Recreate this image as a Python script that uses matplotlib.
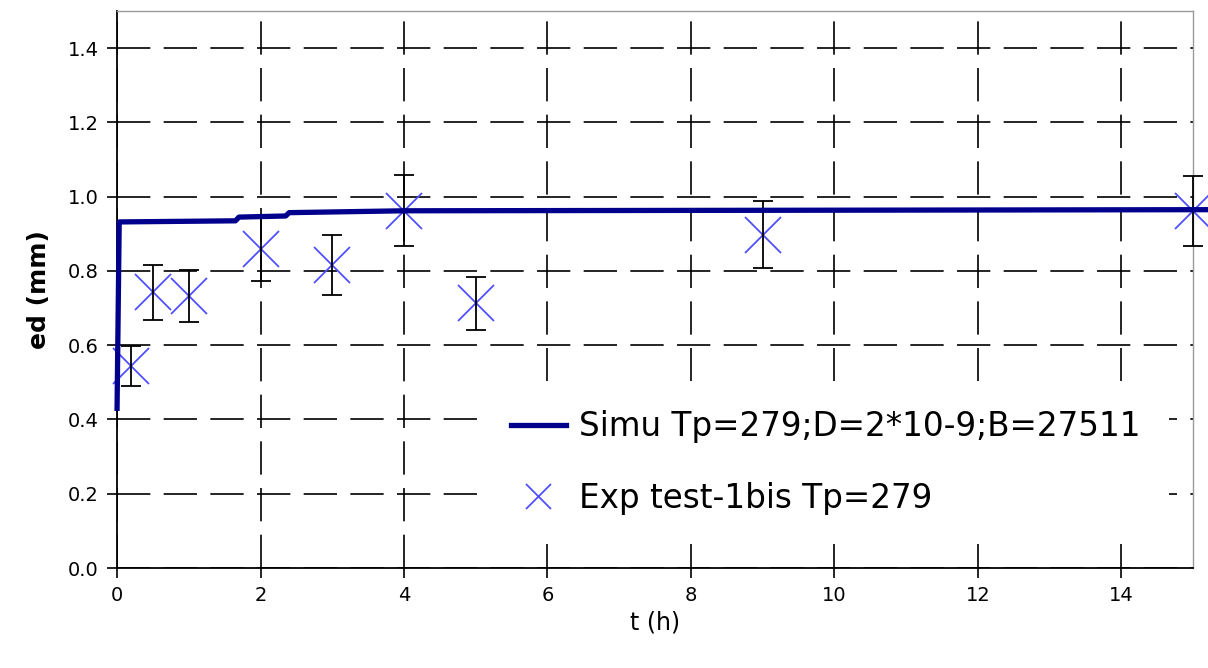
import matplotlib
matplotlib.use("Agg")
import matplotlib.pyplot as plt
from matplotlib.lines import Line2D

# simulated step curve
SIM_T = [0.0, 0.03, 1.65, 1.70, 2.35, 2.40, 4.0, 15.2]
SIM_ED = [0.43, 0.932, 0.935, 0.945, 0.948, 0.957, 0.962, 0.965]

# experimental points with error bars
EXP_T = [0.2, 0.5, 1, 2, 3, 4, 5, 9, 15]
EXP_ED = [0.543, 0.742, 0.732, 0.858, 0.816, 0.962, 0.713, 0.898, 0.962]
EXP_ERR = [0.054, 0.074, 0.070, 0.085, 0.082, 0.096, 0.072, 0.090, 0.094]

SIM_LABEL = "Simu Tp=279;D=2*10-9;B=27511"
EXP_LABEL = "Exp test-1bis Tp=279"

NAVY = "#00008c"
LIGHT_BLUE = "#4f4fff"
DPI = 100

fig = plt.figure(figsize=(12.08, 6.68), dpi=DPI)
ax = fig.add_axes([0.0969, 0.1497, 0.8907, 0.8338])

ax.plot(EXP_T, EXP_ED, linestyle="none", marker="x", markersize=26,
        markeredgewidth=1.3, color=LIGHT_BLUE, clip_on=False, zorder=3)
ax.errorbar(EXP_T, EXP_ED, yerr=EXP_ERR, fmt="none", ecolor="black",
            elinewidth=1.3, capsize=7, capthick=1.3, clip_on=False, zorder=4)
ax.plot(SIM_T, SIM_ED, color=NAVY, linewidth=3.8, clip_on=False, zorder=5)

ax.set_xlim(0, 15)
ax.set_ylim(0, 1.5)
ax.set_xticks(range(0, 15, 2))
ax.set_yticks([0.0, 0.2, 0.4, 0.6, 0.8, 1.0, 1.2, 1.4])
ax.set_yticklabels([f"{v:.1f}" for v in ax.get_yticks()])

ax.grid(True, color="black", linewidth=1.2, linestyle=(0, (20, 8)))
ax.set_axisbelow(True)

for side in ("top", "right"):
    ax.spines[side].set_color("#9a9a9a")
    ax.spines[side].set_linewidth(1.0)
for side in ("left", "bottom"):
    ax.spines[side].set_color("black")
    ax.spines[side].set_linewidth(1.3)

ax.tick_params(axis="both", direction="out", length=7, width=1.2,
               labelsize=14, colors="black", pad=6)

ax.set_xlabel("t (h)", fontsize=17, labelpad=4)
ax.set_ylabel("ed (mm)", fontsize=18, fontweight="bold", labelpad=12)

handles = [
    Line2D([], [], color=NAVY, linewidth=3.8),
    Line2D([], [], linestyle="none", marker="x", markersize=18,
           markeredgewidth=1.3, color=LIGHT_BLUE),
]
leg = ax.legend(handles, [SIM_LABEL, EXP_LABEL], loc="upper left",
                bbox_to_anchor=(0.3234, 0.365), frameon=True, fancybox=False,
                facecolor="white", edgecolor="none", framealpha=1,
                fontsize=23.5, borderpad=0.9, handlelength=1.7,
                labelspacing=1.18, handletextpad=0.38)
leg.set_zorder(6)

plt.savefig("out.png", dpi=DPI)
